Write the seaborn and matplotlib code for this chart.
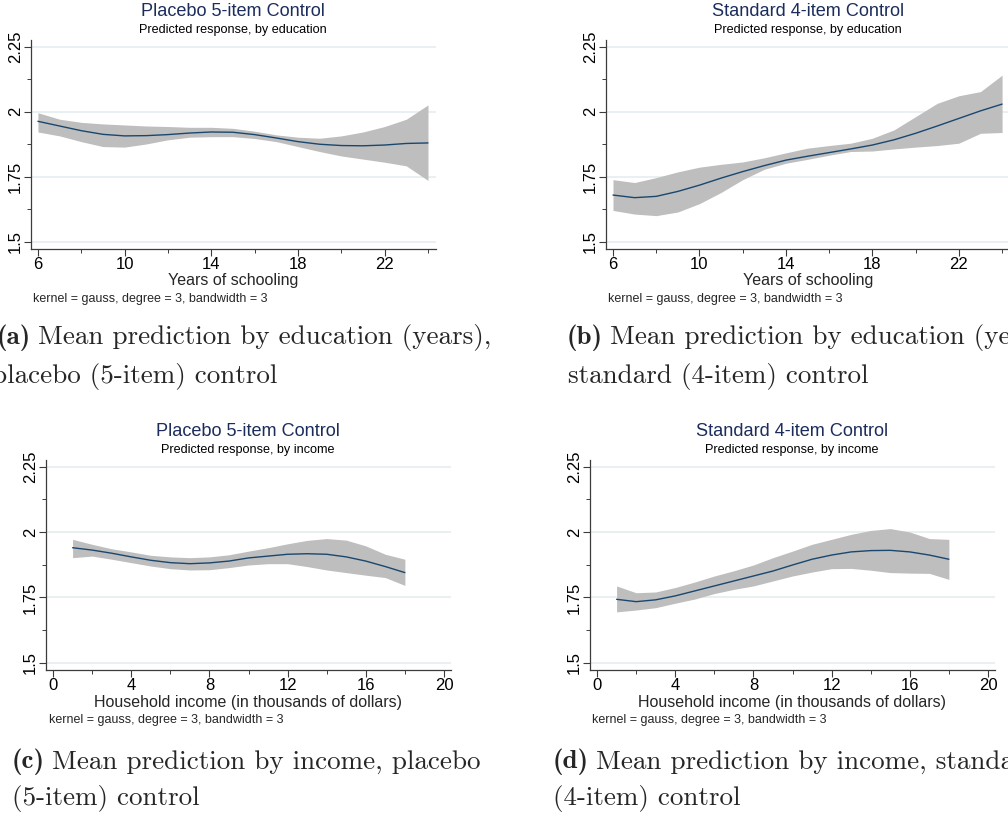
import numpy as np
import pandas as pd
import seaborn as sns
import matplotlib.pyplot as plt

W, H = 1008, 814

# ---- data ----
edu_years = [6, 7, 8, 9, 10, 11, 12, 13, 14, 15, 16, 17, 18, 19, 20, 21, 22, 23, 24]
edu_placebo_mean = [1.963, 1.945, 1.927, 1.913, 1.907, 1.908, 1.912, 1.918, 1.922, 1.921,
                    1.912, 1.899, 1.885, 1.875, 1.870, 1.869, 1.872, 1.878, 1.880]
edu_placebo_hi = [1.996, 1.971, 1.959, 1.953, 1.949, 1.945, 1.943, 1.940, 1.940, 1.936,
                  1.925, 1.911, 1.902, 1.898, 1.907, 1.922, 1.943, 1.971, 2.026]
edu_placebo_lo = [1.922, 1.907, 1.885, 1.866, 1.864, 1.876, 1.892, 1.902, 1.904, 1.904,
                  1.897, 1.885, 1.866, 1.847, 1.830, 1.818, 1.806, 1.792, 1.736]

edu_standard_mean = [1.680, 1.670, 1.675, 1.694, 1.718, 1.745, 1.770, 1.793, 1.814, 1.829,
                     1.843, 1.857, 1.872, 1.892, 1.917, 1.945, 1.974, 2.003, 2.029]
edu_standard_hi = [1.739, 1.728, 1.747, 1.769, 1.787, 1.798, 1.807, 1.823, 1.842, 1.860,
                   1.870, 1.879, 1.898, 1.930, 1.981, 2.032, 2.061, 2.077, 2.140]
edu_standard_lo = [1.621, 1.607, 1.601, 1.615, 1.647, 1.690, 1.739, 1.779, 1.802, 1.817,
                   1.833, 1.847, 1.849, 1.857, 1.864, 1.870, 1.879, 1.917, 1.920]

income = [1, 2, 3, 4, 5, 6, 7, 8, 9, 10, 11, 12, 13, 14, 15, 16, 17, 18]
inc_placebo_mean = [1.940, 1.931, 1.919, 1.905, 1.892, 1.883, 1.879, 1.882, 1.889, 1.901,
                    1.908, 1.915, 1.917, 1.915, 1.905, 1.889, 1.868, 1.845]
inc_placebo_hi = [1.972, 1.953, 1.936, 1.924, 1.911, 1.905, 1.902, 1.905, 1.913, 1.927,
                  1.940, 1.955, 1.968, 1.975, 1.969, 1.947, 1.915, 1.896]
inc_placebo_lo = [1.902, 1.908, 1.896, 1.883, 1.870, 1.860, 1.855, 1.856, 1.864, 1.874,
                  1.879, 1.879, 1.868, 1.855, 1.845, 1.835, 1.826, 1.796]

inc_standard_mean = [1.743, 1.734, 1.741, 1.756, 1.775, 1.794, 1.813, 1.832, 1.851, 1.874,
                     1.896, 1.912, 1.924, 1.929, 1.930, 1.924, 1.912, 1.896]
inc_standard_hi = [1.794, 1.768, 1.771, 1.788, 1.809, 1.832, 1.852, 1.874, 1.902, 1.927,
                   1.953, 1.972, 1.991, 2.006, 2.013, 2.000, 1.975, 1.972]
inc_standard_lo = [1.695, 1.702, 1.711, 1.728, 1.744, 1.765, 1.781, 1.794, 1.813, 1.832,
                   1.847, 1.860, 1.861, 1.854, 1.845, 1.843, 1.842, 1.819]

y_ticks = [1.5, 1.75, 2, 2.25]
y_ticklabels = ['1.5', '1.75', '2', '2.25']
edu_ticks = [6, 10, 14, 18, 22]
inc_ticks = [0, 4, 8, 12, 16, 20]

titles = ['Placebo 5-item Control', 'Standard 4-item Control',
          'Placebo 5-item Control', 'Standard 4-item Control']
subtitles = ['Predicted response, by education', 'Predicted response, by education',
             'Predicted response, by income', 'Predicted response, by income']
note = 'kernel = gauss, degree = 3, bandwidth = 3'
captions = [('(a)', 'Mean prediction by education (years),', 'placebo (5-item) control'),
            ('(b)', 'Mean prediction by education (years),', 'standard (4-item) control'),
            ('(c)', 'Mean prediction by income, placebo', '(5-item) control'),
            ('(d)', 'Mean prediction by income, standard', '(4-item) control')]

sns.set_style('white')
plt.rcParams['font.family'] = ['Liberation Sans', 'DejaVu Sans']

NAVY = '#1a476f'
TITLE_C = '#1c2d5c'
BAND = '#bebebe'
GRID = '#e8f0f1'
AX = '#3c3c3c'

fig = plt.figure(figsize=(W / 100, H / 100), dpi=100)


def px(x, y):
    return x / W, 1 - y / H


def panel(box, x, mean, lo, hi, xlim, xticks, xminor, title, subtitle, xlabel,
          note_x, title_x):
    l, t, r, b = box
    ax = fig.add_axes([l / W, 1 - b / H, (r - l) / W, (b - t) / H])
    for yv in y_ticks:
        ax.axhline(yv, color=GRID, lw=1.4, zorder=0)
    ax.fill_between(x, lo, hi, color=BAND, linewidth=0, zorder=1)
    sns.lineplot(x=x, y=mean, ax=ax, color=NAVY, linewidth=1.0, zorder=2)
    ax.set_xlim(*xlim)
    ax.set_ylim(1.473, 2.275)
    ax.set_yticks(y_ticks)
    ax.set_yticklabels(y_ticklabels, rotation=90, va='center')
    ax.set_yticks([1.625, 1.875, 2.125], minor=True)
    ax.set_xticks(xticks)
    ax.set_xticklabels([str(v) for v in xticks])
    ax.set_xticks(xminor, minor=True)
    for s in ['top', 'right']:
        ax.spines[s].set_visible(False)
    for s in ['left', 'bottom']:
        ax.spines[s].set_color(AX)
        ax.spines[s].set_linewidth(0.9)
    ax.tick_params(which='major', length=5, width=0.8, color=AX, labelsize=12,
                   labelcolor='black', pad=1.0)
    ax.tick_params(which='minor', length=3, width=0.7, color=AX)
    ax.tick_params(axis='y', which='both', left=True)
    ax.tick_params(axis='x', which='both', bottom=True)
    ax.grid(False)
    fig.text(*px(title_x, t - 29), title, ha='center', va='center', fontsize=13.1, color=TITLE_C)
    fig.text(*px(title_x, t - 10), subtitle, ha='center', va='center', fontsize=9.1, color='black')
    fig.text(*px(title_x, b + 32), xlabel, ha='center', va='center', fontsize=11.5)
    fig.text(*px(note_x, b + 50), note, ha='left', va='center', fontsize=9)
    return ax


panel((31, 40, 436, 249), edu_years, edu_placebo_mean, edu_placebo_lo, edu_placebo_hi,
      (5.68, 24.37), edu_ticks, [8, 12, 16, 20, 24], titles[0], subtitles[0],
      'Years of schooling', 33, 233)
panel((606, 40, 1009, 249), edu_years, edu_standard_mean, edu_standard_lo, edu_standard_hi,
      (5.676, 24.32), edu_ticks, [8, 12, 16, 20, 24], titles[1], subtitles[1],
      'Years of schooling', 608, 808)
panel((46, 460, 451, 670), income, inc_placebo_mean, inc_placebo_lo, inc_placebo_hi,
      (-0.36, 20.36), inc_ticks, [2, 6, 10, 14, 18], titles[2], subtitles[2],
      'Household income (in thousands of dollars)', 49, 248)
panel((590, 460, 995, 670), income, inc_standard_mean, inc_standard_lo, inc_standard_hi,
      (-0.36, 20.36), inc_ticks, [2, 6, 10, 14, 18], titles[3], subtitles[3],
      'Household income (in thousands of dollars)', 592, 792)

# captions in Computer Modern
renderer = fig.canvas.get_renderer()
cap_pos = [(-3, 338, -8, 377), (567, 338, 568, 377), (12, 762, 12, 798), (553, 762, 553, 798)]
for (tag, line1, line2), (x1, y1, x2, y2) in zip(captions, cap_pos):
    t = fig.text(*px(x1, y1), tag, ha='left', va='center', fontsize=19.5, family='cmb10')
    w = t.get_window_extent(renderer).width
    fig.text(*px(x1 + w + 7, y1), line1, ha='left', va='center', fontsize=19.5, family='cmr10')
    fig.text(*px(x2, y2), line2, ha='left', va='center', fontsize=19.5, family='cmr10')

fig.savefig('out.png', dpi=100)
